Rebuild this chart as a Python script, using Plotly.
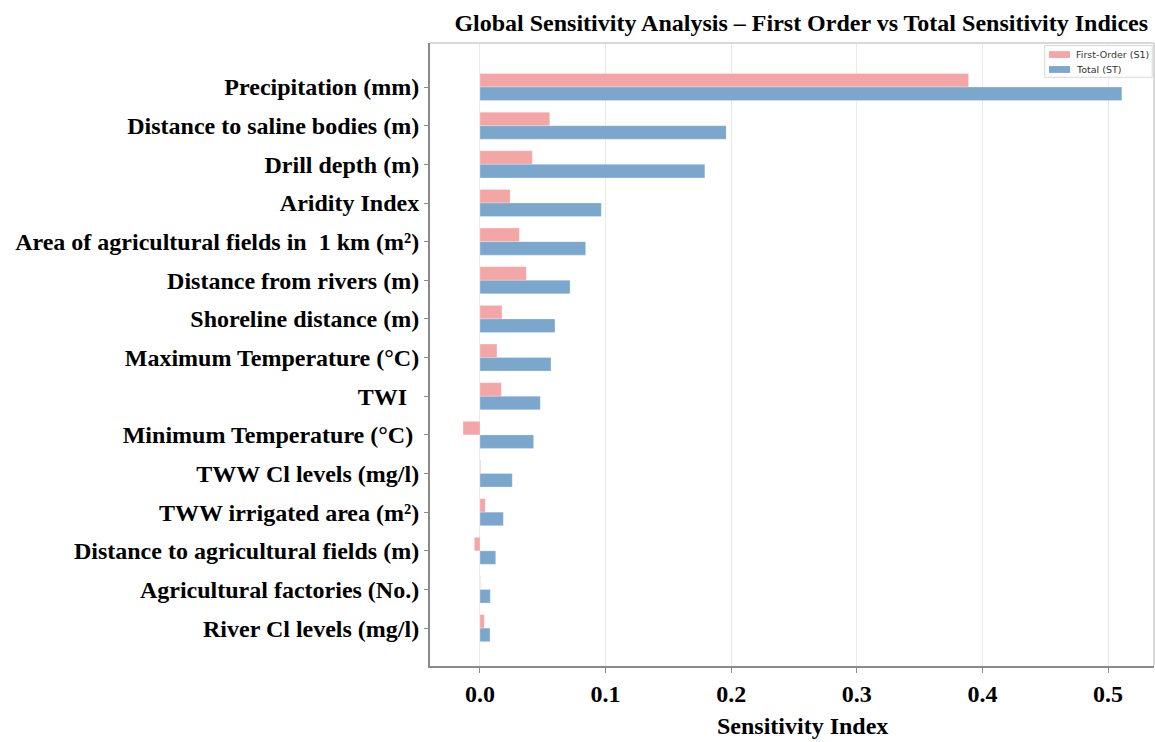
import plotly.graph_objects as go

features = [
    "Precipitation (mm)",
    "Distance to saline bodies (m)",
    "Drill depth (m)",
    "Aridity Index",
    "Area of agricultural fields in  1 km (m²)",
    "Distance from rivers (m)",
    "Shoreline distance (m)",
    "Maximum Temperature (°C)",
    "TWI  ",
    "Minimum Temperature (°C) ",
    "TWW Cl levels (mg/l)",
    "TWW irrigated area (m²)",
    "Distance to agricultural fields (m)",
    "Agricultural factories (No.)",
    "River Cl levels (mg/l)",
]
s1_values = [0.389, 0.0555, 0.0417, 0.024, 0.0313, 0.0369, 0.0175, 0.0135, 0.017,
             -0.0135, 0.0005, 0.0042, -0.0045, 0.0003, 0.0034]
st_values = [0.511, 0.196, 0.179, 0.0966, 0.0841, 0.0717, 0.0597, 0.0565, 0.048,
             0.0427, 0.0257, 0.0186, 0.0125, 0.0082, 0.008]
x_ticks = [0.0, 0.1, 0.2, 0.3, 0.4, 0.5]
series_names = ["First-Order (S1)", "Total (ST)"]
series_colors = ["#F4A6A6", "#7BA7CD"]

serif = "Liberation Serif, Times New Roman, serif"

fig = go.Figure()
for name, vals, col in zip(series_names, [s1_values, st_values], series_colors):
    fig.add_trace(go.Bar(y=features, x=vals, orientation="h", name=name,
                         marker=dict(color=col, line=dict(color="rgba(255,255,255,0.5)", width=0.5))))

fig.update_layout(
    width=1155, height=742,
    margin=dict(l=430, r=1, t=43, b=76),
    paper_bgcolor="white", plot_bgcolor="white",
    barmode="group", bargap=0.3, bargroupgap=0,
    title=dict(text="<b>Global Sensitivity Analysis – First Order vs Total Sensitivity Indices</b>",
               x=0.994, xanchor="right", y=0.970, yanchor="middle",
               font=dict(family=serif, size=24, color="black")),
    showlegend=False,
)
fig.update_xaxes(
    range=[-0.0398, 0.5366], tickvals=x_ticks, ticktext=[f"<b>{v:.1f}</b>" for v in x_ticks],
    tickfont=dict(family=serif, size=24, color="black"),
    showgrid=True, gridcolor="#ebebeb", gridwidth=1, zeroline=False,
    showline=True, linecolor="#8a8a8a", linewidth=2,
    ticks="outside", ticklen=5, tickcolor="#8a8a8a",
)
fig.add_annotation(xref="paper", yref="paper", x=0.514, y=-0.096, yanchor="middle",
                   text="<b>Sensitivity Index</b>", showarrow=False,
                   font=dict(family=serif, size=24, color="black"))
fig.update_yaxes(
    categoryorder="array", categoryarray=features,
    range=[14.98, -1.14],
    tickfont=dict(family=serif, size=24, color="black"),
    tickprefix="<b>", ticksuffix="</b>",
    showgrid=False, zeroline=False,
    showline=True, linecolor="#8a8a8a", linewidth=2,
    ticks="outside", ticklen=4, tickcolor="#8a8a8a",
)
# top and right spines (light)
fig.add_shape(type="line", xref="paper", yref="paper", x0=0, x1=1, y0=1, y1=1,
              line=dict(color="#cccccc", width=1.5))
fig.add_shape(type="line", xref="paper", yref="paper", x0=1, x1=1, y0=0, y1=1,
              line=dict(color="#cccccc", width=1.5))

# legend drawn as box + patches + labels
fig.add_shape(type="rect", xref="paper", yref="paper", x0=0.849, x1=0.9975, y0=0.945, y1=0.996,
              line=dict(color="#d8d8d8", width=1), fillcolor="white")
patch_y = [(0.976, 0.987), (0.952, 0.963)]
for name, col, (ya, yb) in zip(series_names, series_colors, patch_y):
    fig.add_shape(type="rect", xref="paper", yref="paper", x0=0.855, x1=0.884, y0=ya, y1=yb,
                  line=dict(width=0), fillcolor=col)
    fig.add_annotation(xref="paper", yref="paper", x=0.889, y=(ya + yb) / 2, text=name,
                       showarrow=False, xanchor="left", yanchor="middle",
                       font=dict(family="DejaVu Sans, sans-serif", size=9.5, color="#333"))

fig.write_html("out.html")
